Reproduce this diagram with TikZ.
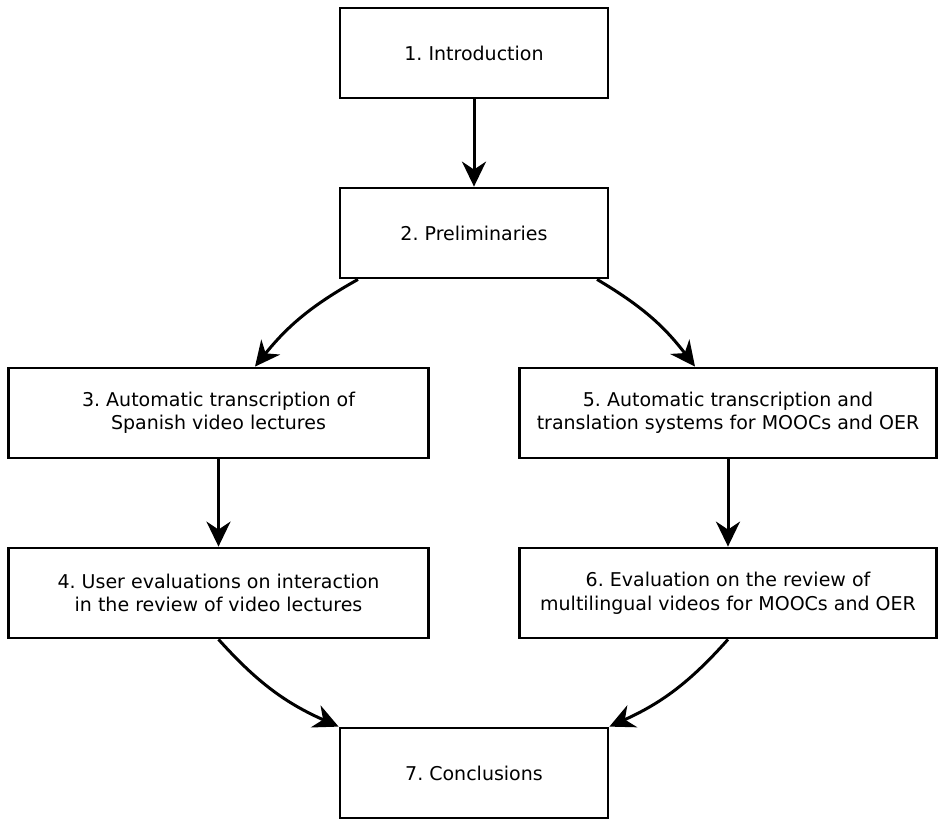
\documentclass[tikz,border=0pt]{standalone}
\usepackage{fontspec}
\setmainfont{DejaVu Sans}
\usetikzlibrary{arrows.meta,calc}
\begin{document}
\frenchspacing
\begin{tikzpicture}[x=1pt,y=-1pt,
  box/.style={draw,line width=2.8pt,rectangle,minimum height=90pt,align=center,inner sep=0pt,
    font=\fontsize{19}{23.5}\selectfont},
  smallbox/.style={box,minimum width=268pt},
  widebox/.style={box,minimum width=420pt},
  conn/.style={line width=3pt,-{Stealth[length=25pt,width=24pt,inset=8pt]}}]
\useasboundingbox (0,0) rectangle (938,820);
\node[smallbox] (n1) at (474,53) {1. Introduction};
\node[smallbox] (n2) at (474,233) {2. Preliminaries};
\node[widebox] (n3) at (218.5,413) {3. Automatic transcription of\\Spanish video lectures};
\node[widebox,minimum width=417pt] (n5) at (728,413) {5. Automatic transcription and\\translation systems for MOOCs and OER};
\node[widebox] (n4) at (218.5,593) {4. User evaluations on interaction\\in the review of video lectures};
\node[widebox,minimum width=417pt] (n6) at (728,593) {6. Evaluation on the review of\\multilingual videos for MOOCs and OER};
\node[smallbox] (n7) at (474,773) {7. Conclusions};
\draw[conn] (n1.south) -- (n2.north);
\draw[conn] ($(n2.south)+(-116,0)$) to[bend right=11] ($(n3.north)+(36.5,0)$);
\draw[conn] ($(n2.south)+(123,0)$) to[bend left=11] ($(n5.north)+(-33,0)$);
\draw[conn] (n3.south) -- (n4.north);
\draw[conn] (n5.south) -- (n6.north);
\draw[conn] (n4.south) to[bend right=12] (n7.north west);
\draw[conn] (n6.south) to[bend left=12] (n7.north east);
\end{tikzpicture}
\end{document}
